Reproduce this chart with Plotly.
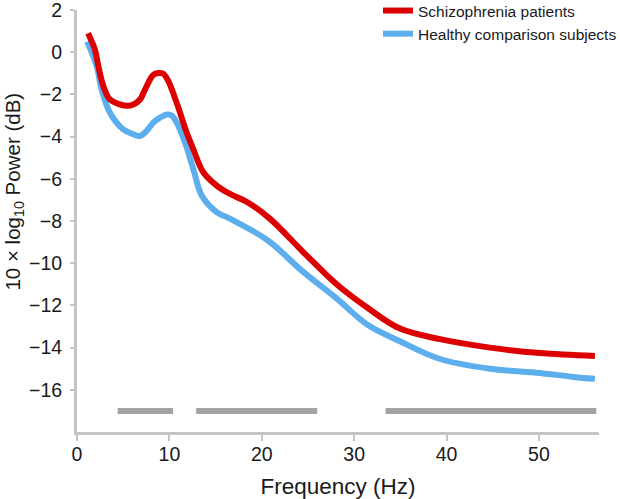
import plotly.graph_objects as go

# Frequencies (Hz) and power (dB)
freq_scz = [1.2, 1.95, 2.31, 2.85, 3.57, 5.38, 6.1, 6.82, 7.36, 7.9, 8.26, 8.8, 9.34, 9.88, 10.79, 11.87,
            12.59, 13.67, 15.12, 16.56, 18.4, 20.9, 24.46, 28.1, 31.4, 34.96, 39.3, 44.7, 50.1, 56.06]
power_scz = [0.9, 0.11, -0.66, -1.6, -2.24, -2.54, -2.48, -2.24, -1.77, -1.3, -1.07, -0.99, -1.02, -1.36, -2.4,
             -3.81, -4.6, -5.69, -6.32, -6.72, -7.1, -7.9, -9.46, -11.0, -12.1, -13.1, -13.6, -14.0, -14.26, -14.4]

freq_hc = [1.1, 2.13, 2.67, 3.57, 5.01, 6.1, 6.82, 7.54, 8.26, 8.98, 9.71, 10.25, 10.79, 11.69, 12.59, 13.5,
           15.12, 16.56, 20.56, 24.46, 28.1, 31.4, 34.96, 39.3, 44.7, 50.1, 53.7, 56.06]
power_hc = [0.5, -0.66, -1.77, -2.87, -3.66, -3.89, -3.97, -3.73, -3.34, -3.1, -2.95, -3.0, -3.34, -4.28, -5.54,
            -6.79, -7.58, -7.89, -8.89, -10.4, -11.67, -12.9, -13.7, -14.54, -15.0, -15.2, -15.39, -15.48]

# Significance bands (Hz)
sig_start = [4.4, 12.9, 33.4]
sig_end = [10.4, 26.0, 56.2]
sig_level = -17

x_ticks = [0, 10, 20, 30, 40, 50]
y_ticks = [2, 0, -2, -4, -6, -8, -10, -12, -14, -16]
y_ticktext = ["2", "0", "\u22122", "\u22124", "\u22126", "\u22128",
              "\u221210", "\u221212", "\u221214", "\u221216"]
y_title = "10 \u00d7 log<sub>10</sub> Power (dB)"
x_title = "Frequency (Hz)"

fig = go.Figure()

for s, e in zip(sig_start, sig_end):
    fig.add_trace(go.Scatter(x=[s, e], y=[sig_level, sig_level], mode="lines",
                             line=dict(color="#a3a3a3", width=6), showlegend=False, hoverinfo="skip"))

fig.add_trace(go.Scatter(x=freq_hc, y=power_hc, mode="lines", name="Healthy comparison subjects",
                         line=dict(color="#5caeed", width=6, shape="spline", smoothing=1.0)))
fig.add_trace(go.Scatter(x=freq_scz, y=power_scz, mode="lines", name="Schizophrenia patients",
                         line=dict(color="#dd0000", width=6, shape="spline", smoothing=1.0)))

fig.add_annotation(text=y_title, xref="paper", yref="paper", x=-0.1215, y=0.5687,
                   xanchor="center", yanchor="middle", textangle=-90, showarrow=False,
                   borderpad=0, font=dict(size=20.5, color="#1a1a1a"))

fig.update_layout(
    width=620, height=499,
    margin=dict(l=77, r=21, t=10, b=67, autoexpand=False),
    plot_bgcolor="white", paper_bgcolor="white",
    font=dict(family="Liberation Sans, Arial, sans-serif", color="#1a1a1a"),
    legend=dict(x=0.5766, xanchor="left", y=1.038, yanchor="top", traceorder="reversed",
                font=dict(size=15.5), bgcolor="rgba(0,0,0,0)", itemwidth=30, tracegroupgap=0),
    xaxis=dict(range=[0, 56.5], tickvals=x_ticks, showline=True, linecolor="#c4c4c4", linewidth=3,
               ticks="outside", ticklen=6, tickcolor="#c4c4c4", tickwidth=2, showgrid=False, zeroline=False,
               automargin=False, tickfont=dict(size=19.5), ticklabelstandoff=-3,
               title=dict(text=x_title, font=dict(size=22.5), standoff=15)),
    yaxis=dict(range=[-18, 2], tickvals=y_ticks, ticktext=y_ticktext,
               showline=True, linecolor="#c4c4c4", linewidth=3,
               ticks="outside", ticklen=4, tickcolor="#c4c4c4", tickwidth=2, showgrid=False, zeroline=False,
               automargin=False, tickfont=dict(size=19.5), ticklabelstandoff=4, ticklabeloverflow="allow"),
)

fig.write_html("out.html", config={"displayModeBar": False},
               post_script="document.body.style.margin='0px';")
